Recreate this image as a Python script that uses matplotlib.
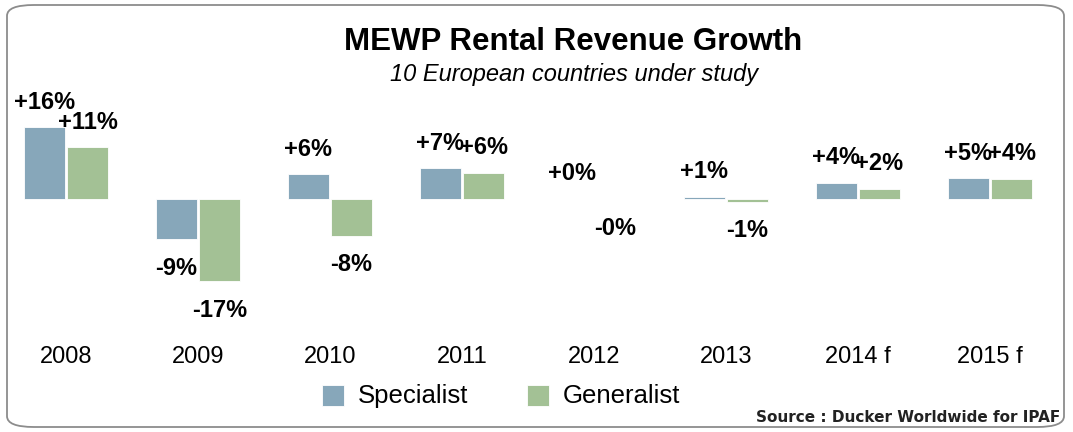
import matplotlib
matplotlib.use("Agg")
import matplotlib.pyplot as plt
from matplotlib.patches import FancyBboxPatch, Rectangle
import numpy as np

plt.rcParams['font.family'] = ['Liberation Sans', 'DejaVu Sans']

years = ['2008', '2009', '2010', '2011', '2012', '2013', '2014 f', '2015 f']
specialist = [15.6, -8.8, 5.4, 6.7, 0.1, 0.5, 3.5, 4.5]
generalist = [11.2, -17.9, -8.0, 5.7, -0.1, -0.6, 2.2, 4.4]
spec_labels = ['+16%', '-9%', '+6%', '+7%', '+0%', '+1%', '+4%', '+5%']
gen_labels = ['+11%', '-17%', '-8%', '+6%', '-0%', '-1%', '+2%', '+4%']

c_spec = '#87a7ba'
c_gen = '#a3c195'

fig = plt.figure(figsize=(10.73, 4.32), dpi=100)

# rounded frame
frame = FancyBboxPatch((7/1073, 5/432), 1057/1073, 422/432,
                       boxstyle="round,pad=0,rounding_size=0.025",
                       transform=fig.transFigure, facecolor='none',
                       edgecolor='#8c8c8c', linewidth=1.3)
fig.patches.append(frame)

ax = fig.add_axes([0, (432-330)/432, 1056/1073, 240/432])
ax.set_xlim(-0.5, 7.5)
ax.set_ylim(-28.5, 23.7)
ax.axis('off')

x = np.arange(len(years))
w = 0.31
gap = 0.008
ax.bar(x - w/2 - gap, specialist, w, color=c_spec, edgecolor='white', linewidth=0.6)
ax.bar(x + w/2 + gap, generalist, w, color=c_gen, edgecolor='white', linewidth=0.6)

# data labels (pixel offsets from the bar end)
for xs, vals, labs in [(x - w/2 - gap, specialist, spec_labels),
                       (x + w/2 + gap, generalist, gen_labels)]:
    for xi, v, lab in zip(xs, vals, labs):
        off = 25 if v >= 0 else -29
        ax.annotate(lab, (xi, v), xytext=(0, off),
                    textcoords='offset pixels', ha='center', va='center',
                    fontsize=17, fontweight='bold', annotation_clip=False)

for xi, yr in zip(x, years):
    ax.annotate(yr, (xi, 0), xycoords=('data', 'axes fraction'), xytext=(0, -27),
                textcoords='offset pixels', ha='center', va='center', fontsize=17,
                annotation_clip=False)

fig.text(573/1073, 1 - 42/432, 'MEWP Rental Revenue Growth', ha='center', va='center',
         fontsize=22.5, fontweight='bold')
fig.text(574/1073, 1 - 75/432, '10 European countries under study', ha='center',
         va='center', fontsize=17, style='italic')

# legend
for sx, tx, lab, col in [(322, 358, 'Specialist', c_spec), (527, 563, 'Generalist', c_gen)]:
    fig.patches.append(Rectangle((sx/1073, 1 - 406/432), 22/1073, 21/432,
                                 transform=fig.transFigure, facecolor=col,
                                 edgecolor='white', linewidth=0.6))
    fig.text(tx/1073, 1 - 396/432, lab, ha='left', va='center', fontsize=18.5)

fig.text(1060/1073, 1 - 418/432, 'Source : Ducker Worldwide for IPAF', ha='right',
         va='center', fontsize=11, fontweight='bold', color='#222222',
         family='DejaVu Sans')

fig.savefig('out.png', dpi=100)
